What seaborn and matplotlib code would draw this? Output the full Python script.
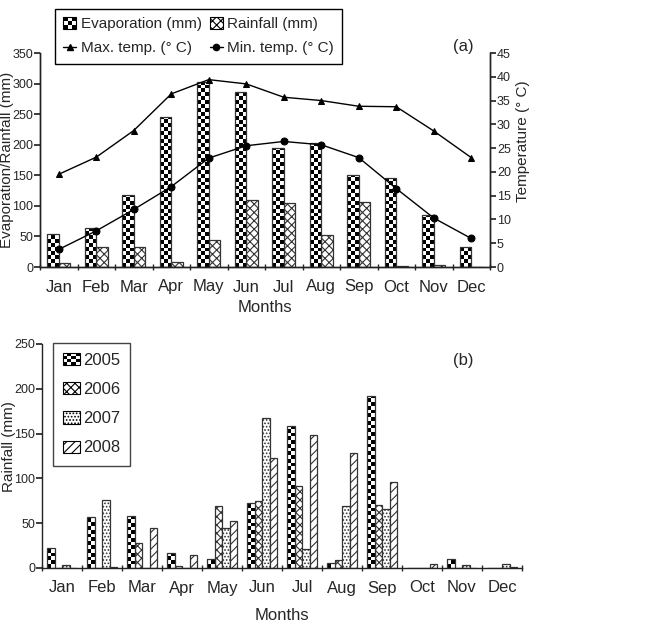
import numpy as np
import pandas as pd
import seaborn as sns
import matplotlib.pyplot as plt
from matplotlib.patches import Patch, Rectangle
from matplotlib.lines import Line2D
from matplotlib.legend_handler import HandlerBase

# ---------------------------------------------------------------
# data
# ---------------------------------------------------------------
months = ["Jan", "Feb", "Mar", "Apr", "May", "Jun",
          "Jul", "Aug", "Sep", "Oct", "Nov", "Dec"]

# panel (a): monthly means
evaporation = [54, 64, 117, 246, 302, 286, 194, 202, 151, 146, 85, 33]
rainfall = [6.5, 33, 32, 8, 44, 110, 105, 52, 106, 1, 3, 0.5]
max_temp = [19.5, 23.1, 28.7, 36.4, 39.4, 38.5, 35.7, 35.0, 33.8, 33.7, 28.6, 23.0]
min_temp = [3.7, 7.6, 12.1, 16.9, 22.9, 25.5, 26.4, 25.7, 23.0, 16.5, 10.3, 6.0]

# panel (b): rainfall by year
years = ["2005", "2006", "2007", "2008"]
rain_2005 = [22.7, 57, 58, 17, 10, 72, 158, 5.5, 192, 0, 10, 0]
rain_2006 = [0, 0, 28, 2, 69, 75, 91.5, 8.5, 70, 0, 0, 0]
rain_2007 = [3.5, 75.5, 0, 0, 44.6, 167, 21.6, 69, 66, 0, 3.5, 4]
rain_2008 = [0, 1, 44.6, 14.5, 53, 123, 148, 128, 96, 5, 0, 1]

# ---------------------------------------------------------------
# style
# ---------------------------------------------------------------
sns.set_theme(style="ticks")
plt.rcParams["font.family"] = ["Liberation Sans", "DejaVu Sans"]
plt.rcParams["hatch.linewidth"] = 0.8
plt.rcParams["axes.linewidth"] = 1.0
plt.rcParams["axes.edgecolor"] = "#222222"
FS = 12      # month ticks / x labels
FS_Y = 11    # y labels
FS_LEG = 11  # legend text
EDGE = "#333333"


class CheckerHandler(HandlerBase):
    """legend handle: small black/white checker box"""
    def __init__(self, n=4):
        super().__init__()
        self.n = n

    def create_artists(self, legend, orig_handle, xdescent, ydescent,
                       width, height, fontsize, trans):
        x0, y0 = -xdescent, -ydescent
        cw, ch = width / self.n, height / self.n
        arts = [Rectangle((x0, y0), width, height, fc="white", ec="none", transform=trans)]
        for i in range(self.n):
            for j in range(self.n):
                if (i + j) % 2 == 0:
                    arts.append(Rectangle((x0 + i * cw, y0 + j * ch), cw, ch,
                                          fc="black", ec="none", transform=trans))
        arts.append(Rectangle((x0, y0), width, height, fc="none", ec="black",
                              lw=0.8, transform=trans))
        return arts


def checker(ax, bars, ncols):
    # fill each bar with a checkerboard clipped to the bar
    for p in bars:
        x0, y0 = p.get_x(), p.get_y()
        w, h = p.get_width(), p.get_height()
        if h <= 0:
            continue
        (px0, py0), (px1, py1) = ax.transData.transform([(x0, y0), (x0 + w, y0 + h)])
        cell = (px1 - px0) / ncols
        nrows = max(1, int(np.ceil((py1 - py0) / cell)))
        grid = np.indices((nrows, ncols)).sum(axis=0) % 2
        top = y0 + nrows * cell * h / (py1 - py0)
        im = ax.imshow(grid, cmap="gray", extent=(x0, x0 + w, y0, top),
                       origin="lower", aspect="auto", interpolation="nearest",
                       zorder=2)
        im.set_clip_path(p)
        p.set_facecolor("none")
        p.set_zorder(3)


def month_axis(ax):
    ax.set_xlim(-0.5, 11.5)
    ax.set_xticks(range(12))
    ax.set_xticklabels(months, fontsize=FS)
    ax.set_xticks(np.arange(-0.5, 12, 1), minor=True)
    ax.tick_params(axis="x", which="major", length=0, pad=9)
    ax.tick_params(axis="x", which="minor", length=5, direction="inout", width=1)


fig = plt.figure(figsize=(6.45, 6.27), dpi=100)

# ---------------------------------------------------------------
# panel (a)
# ---------------------------------------------------------------
ax1 = fig.add_axes([40 / 645, 1 - 267 / 627, 450 / 645, 214 / 627])
df_a = pd.DataFrame({
    "Month": months * 2,
    "Value": evaporation + rainfall,
    "Series": ["Evaporation (mm)"] * 12 + ["Rainfall (mm)"] * 12,
})
sns.barplot(data=df_a, x="Month", y="Value", hue="Series", order=months,
            palette=["white", "white"], edgecolor=EDGE, linewidth=0.9,
            width=0.62, saturation=1, legend=False, ax=ax1)
ax1.set_ylim(0, 350)
month_axis(ax1)
for b in ax1.containers[1]:
    b.set_hatch("xxxx")
checker(ax1, ax1.containers[0], 3)
ax1.set_ylim(0, 350)
ax1.set_xlim(-0.5, 11.5)
ax1.set_yticks(range(0, 351, 50))
ax1.tick_params(axis="y", labelsize=9, length=4, pad=1)
ax1.set_ylabel("Evaporation/Rainfall (mm)", fontsize=FS_Y)
ax1.yaxis.set_label_coords(-0.058, 0.5)
ax1.set_xlabel("Months", fontsize=FS, va="top")
ax1.xaxis.set_label_coords(0.5, -0.154)
ax1.spines["top"].set_visible(False)

ax2 = ax1.twinx()
xs = np.arange(12)
sns.lineplot(x=xs, y=max_temp, color="black", lw=1, marker="^", markersize=4.5,
             markeredgecolor="black", ax=ax2)
sns.lineplot(x=xs, y=min_temp, color="black", lw=1, marker="o", markersize=5,
             markeredgecolor="black", ax=ax2)
ax2.set_ylim(0, 45)
ax2.set_yticks(range(0, 46, 5))
ax2.tick_params(axis="y", labelsize=9, length=4, pad=1)
ax2.set_ylabel("Temperature (° C)", fontsize=FS_Y)
ax2.yaxis.set_label_coords(1.058, 0.59)
ax2.spines["top"].set_visible(False)
ax1.set_xlim(-0.5, 11.5)

h_a = [Patch(label="Evaporation (mm)"),
       Line2D([], [], color="black", lw=1, marker="^", markersize=4.5, label="Max. temp. (° C)"),
       Patch(facecolor="white", edgecolor="black", lw=0.8, hatch="xxxx", label="Rainfall (mm)"),
       Line2D([], [], color="black", lw=1, marker="o", markersize=4.5, label="Min. temp. (° C)")]
fig.legend(handles=h_a, loc="upper left", bbox_to_anchor=(55 / 645, 1 - 9 / 627),
           ncol=2, fontsize=FS_LEG, frameon=True, fancybox=False, edgecolor="black",
           framealpha=1, handlelength=0.85, handleheight=0.75, handletextpad=0.3,
           labelspacing=0.65, columnspacing=0.5, borderpad=0.55, borderaxespad=0,
           handler_map={h_a[0]: CheckerHandler(3)})
fig.text(463 / 645, 1 - 47 / 627, "(a)", fontsize=FS, ha="center", va="center")

# ---------------------------------------------------------------
# panel (b)
# ---------------------------------------------------------------
ax3 = fig.add_axes([42 / 645, 1 - 568 / 627, 480 / 645, 224 / 627])
df_b = pd.DataFrame({
    "Month": months * 4,
    "Rain": rain_2005 + rain_2006 + rain_2007 + rain_2008,
    "Year": sum([[y] * 12 for y in years], []),
})
sns.barplot(data=df_b, x="Month", y="Rain", hue="Year", order=months,
            hue_order=years, palette=["white"] * 4, edgecolor=EDGE,
            linewidth=0.9, width=0.75, saturation=1, legend=False, ax=ax3)
ax3.set_ylim(0, 250)
month_axis(ax3)
for b in ax3.containers[1]:
    b.set_hatch("xxxx")
for b in ax3.containers[2]:
    b.set_hatch(".....")
for b in ax3.containers[3]:
    b.set_hatch("////")
checker(ax3, ax3.containers[0], 2)
ax3.set_ylim(0, 250)
ax3.set_xlim(-0.5, 11.5)
ax3.set_yticks(range(0, 251, 50))
ax3.tick_params(axis="y", labelsize=9, length=4, pad=1)
ax3.set_ylabel("Rainfall (mm)", fontsize=FS_Y)
ax3.yaxis.set_label_coords(-0.054, 0.54)
ax3.set_xlabel("Months", fontsize=FS, va="top")
ax3.xaxis.set_label_coords(0.5, -0.179)
sns.despine(ax=ax3)

h_b = [Patch(label="2005"),
       Patch(facecolor="white", edgecolor="black", lw=0.8, hatch="xxxx", label="2006"),
       Patch(facecolor="white", edgecolor="black", lw=0.8, hatch=".....", label="2007"),
       Patch(facecolor="white", edgecolor="black", lw=0.8, hatch="////", label="2008")]
fig.legend(handles=h_b, loc="upper left", bbox_to_anchor=(53 / 645, 1 - 343 / 627),
           fontsize=FS, frameon=True, fancybox=False, edgecolor="#444444",
           framealpha=1, handlelength=1.0, handleheight=0.75, handletextpad=0.2,
           labelspacing=0.85, borderpad=0.6, borderaxespad=0,
           handler_map={h_b[0]: CheckerHandler(4)})
fig.text(463 / 645, 1 - 360 / 627, "(b)", fontsize=FS, ha="center", va="center")

fig.savefig("out.png", dpi=100)
